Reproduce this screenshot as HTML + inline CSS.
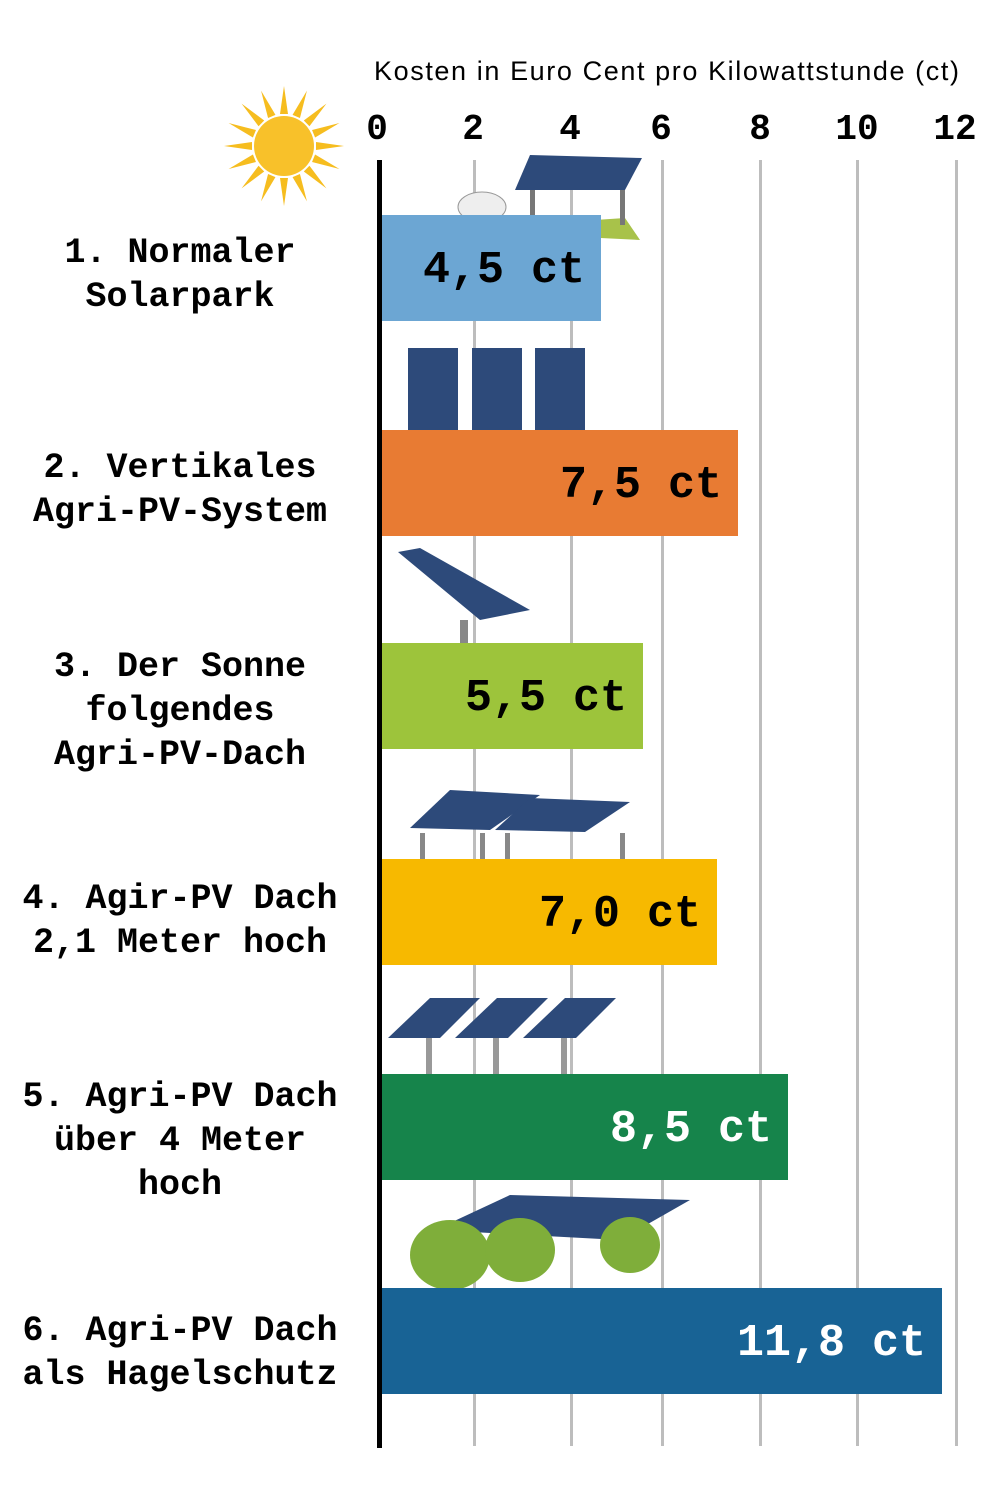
<!DOCTYPE html>
<html><head><meta charset="utf-8"><style>
body{margin:0;width:1000px;height:1508px;background:#fff;position:relative;overflow:hidden;font-family:"Liberation Mono",monospace}
.a{position:absolute}
.g{position:absolute;top:160px;height:1286px;width:3px;background:#bdbdbd}
.t{position:absolute;top:109px;font-size:36px;font-weight:bold;width:80px;text-align:center;margin-left:-40px}
.bar{position:absolute;left:381px;height:106px}
.v{position:absolute;font-size:45px;font-weight:bold;top:30px;right:16px;white-space:nowrap}
.l{position:absolute;left:0;width:360px;text-align:center;font-size:35px;font-weight:bold;line-height:44px}
</style></head><body>
<div class="a" style="left:374px;top:56px;font-family:'Liberation Sans',sans-serif;font-size:27px;letter-spacing:1.6px;white-space:nowrap">Kosten in Euro Cent pro Kilowattstunde (ct)</div>
<div class="t" style="left:377px">0</div><div class="t" style="left:473px">2</div><div class="t" style="left:570px">4</div><div class="t" style="left:661px">6</div><div class="t" style="left:760px">8</div><div class="t" style="left:857px">10</div><div class="t" style="left:955px">12</div>
<div class="g" style="left:473px"></div><div class="g" style="left:570px"></div><div class="g" style="left:661px"></div><div class="g" style="left:759px"></div><div class="g" style="left:856px"></div><div class="g" style="left:955px"></div>
<svg class="a" style="left:220px;top:84px" width="130" height="125" viewBox="-64 -62 130 125">
<g fill="#f6bd1f">
<polygon points="-4,-32 0,-60 4,-32" transform="rotate(0)"/><polygon points="-4,-32 0,-60 4,-32" transform="rotate(22.5)"/><polygon points="-4,-32 0,-60 4,-32" transform="rotate(45)"/><polygon points="-4,-32 0,-60 4,-32" transform="rotate(67.5)"/><polygon points="-4,-32 0,-60 4,-32" transform="rotate(90)"/><polygon points="-4,-32 0,-60 4,-32" transform="rotate(112.5)"/><polygon points="-4,-32 0,-60 4,-32" transform="rotate(135)"/><polygon points="-4,-32 0,-60 4,-32" transform="rotate(157.5)"/><polygon points="-4,-32 0,-60 4,-32" transform="rotate(180)"/><polygon points="-4,-32 0,-60 4,-32" transform="rotate(202.5)"/><polygon points="-4,-32 0,-60 4,-32" transform="rotate(225)"/><polygon points="-4,-32 0,-60 4,-32" transform="rotate(247.5)"/><polygon points="-4,-32 0,-60 4,-32" transform="rotate(270)"/><polygon points="-4,-32 0,-60 4,-32" transform="rotate(292.5)"/><polygon points="-4,-32 0,-60 4,-32" transform="rotate(315)"/><polygon points="-4,-32 0,-60 4,-32" transform="rotate(337.5)"/>
<circle r="30" fill="#f8c12a"/></g></svg>
<svg class="a" style="left:380px;top:150px" width="620" height="1260">
<polygon points="140,75 245,68 260,90 160,85" fill="#a8c24a"/>
<polygon points="135,40 150,5 262,8 245,40" fill="#2d4a7a"/>
<rect x="150" y="40" width="5" height="35" fill="#777"/><rect x="240" y="40" width="5" height="35" fill="#777"/>
<ellipse cx="102" cy="57" rx="24" ry="15" fill="#eee" stroke="#999"/>
<rect x="28" y="198" width="50" height="90" fill="#2d4a7a"/><rect x="92" y="198" width="50" height="90" fill="#2d4a7a"/><rect x="155" y="198" width="50" height="90" fill="#2d4a7a"/>
<polygon points="18,402 40,398 150,460 100,470" fill="#2d4a7a"/><rect x="80" y="470" width="8" height="35" fill="#888"/><ellipse cx="70" cy="505" rx="50" ry="6" fill="#c9d8a0"/>
<polygon points="30,678 70,640 160,645 110,680" fill="#2d4a7a"/><polygon points="115,680 150,648 250,652 205,682" fill="#2d4a7a"/>
<rect x="40" y="683" width="5" height="30" fill="#888"/><rect x="100" y="683" width="5" height="30" fill="#888"/><rect x="125" y="683" width="5" height="30" fill="#888"/><rect x="240" y="683" width="5" height="30" fill="#888"/>
<polygon points="8,888 50,848 100,848 60,888" fill="#2d4a7a"/><polygon points="75,888 117,848 168,848 128,888" fill="#2d4a7a"/><polygon points="143,888 185,848 236,848 196,888" fill="#2d4a7a"/>
<rect x="46" y="888" width="6" height="80" fill="#999"/><rect x="113" y="888" width="6" height="80" fill="#999"/><rect x="181" y="888" width="6" height="80" fill="#999"/>
<polygon points="55,1080 130,1045 310,1050 240,1090" fill="#2d4a7a"/>
<ellipse cx="70" cy="1105" rx="40" ry="35" fill="#7fae3a"/><ellipse cx="140" cy="1100" rx="35" ry="32" fill="#7fae3a"/><ellipse cx="250" cy="1095" rx="30" ry="28" fill="#7fae3a"/>
</svg>
<div class="bar" style="top:215px;width:220px;background:#6ca6d3"><div class="v">4,5 ct</div></div>
<div class="bar" style="top:430px;width:357px;background:#e87b33"><div class="v">7,5 ct</div></div>
<div class="bar" style="top:643px;width:262px;background:#9dc43b"><div class="v">5,5 ct</div></div>
<div class="bar" style="top:859px;width:336px;background:#f7b900"><div class="v">7,0 ct</div></div>
<div class="bar" style="top:1074px;width:407px;background:#16844b"><div class="v" style="color:#fff">8,5 ct</div></div>
<div class="bar" style="top:1288px;width:561px;background:#186395"><div class="v" style="color:#fff">11,8 ct</div></div>
<div class="a" style="left:377px;top:160px;width:5px;height:1288px;background:#000"></div>
<div class="l" style="top:231px">1. Normaler<br>Solarpark</div>
<div class="l" style="top:446px">2. Vertikales<br>Agri-PV-System</div>
<div class="l" style="top:645px">3. Der Sonne<br>folgendes<br>Agri-PV-Dach</div>
<div class="l" style="top:877px">4. Agir-PV Dach<br>2,1 Meter hoch</div>
<div class="l" style="top:1075px">5. Agri-PV Dach<br>über 4 Meter<br>hoch</div>
<div class="l" style="top:1309px">6. Agri-PV Dach<br>als Hagelschutz</div>
</body></html>
